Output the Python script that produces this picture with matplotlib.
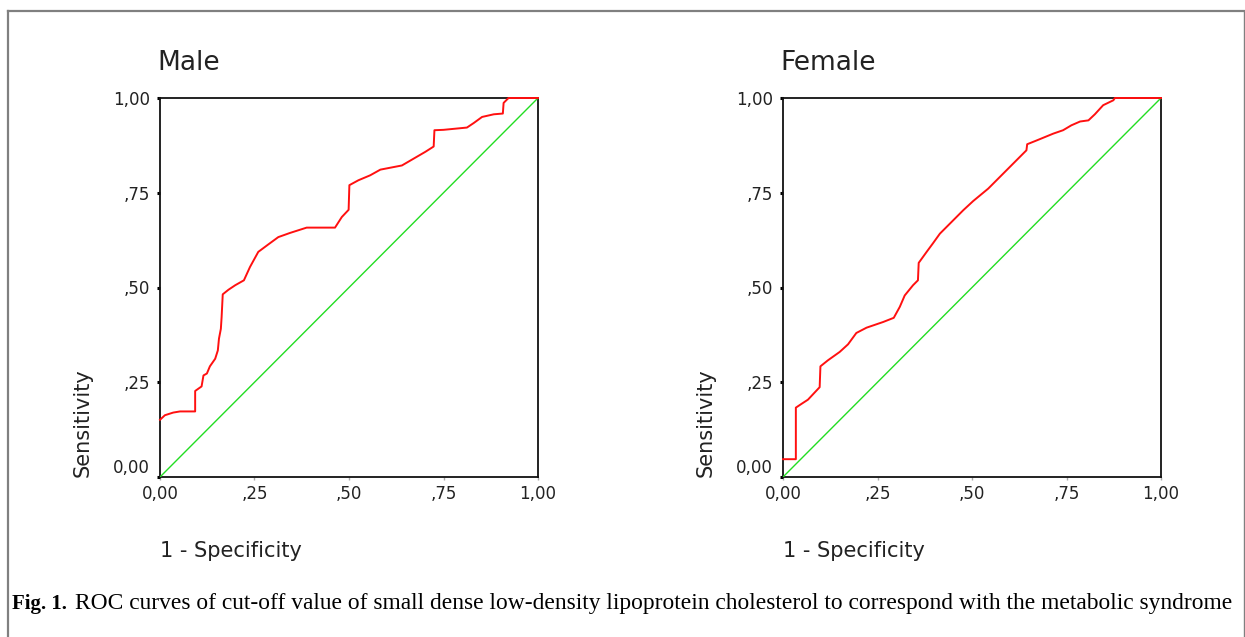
import matplotlib.pyplot as plt
from matplotlib.lines import Line2D

# ROC points (1 - specificity, sensitivity)
male_fpr = [0.0, 0.013, 0.035, 0.053, 0.093, 0.093, 0.110, 0.115, 0.124, 0.132,
            0.146, 0.153, 0.156, 0.161, 0.163, 0.166, 0.181, 0.199, 0.222, 0.238,
            0.260, 0.287, 0.313, 0.344, 0.388, 0.463, 0.481, 0.499, 0.501, 0.525,
            0.556, 0.583, 0.640, 0.671, 0.702, 0.724, 0.726, 0.750, 0.812, 0.830,
            0.852, 0.883, 0.907, 0.909, 0.922, 1.0]
male_tpr = [0.151, 0.163, 0.170, 0.173, 0.173, 0.227, 0.239, 0.268, 0.273, 0.292,
            0.312, 0.334, 0.365, 0.391, 0.422, 0.482, 0.494, 0.506, 0.519, 0.554,
            0.594, 0.614, 0.633, 0.644, 0.658, 0.658, 0.686, 0.705, 0.770, 0.783,
            0.796, 0.811, 0.822, 0.840, 0.858, 0.872, 0.915, 0.916, 0.922, 0.934,
            0.950, 0.957, 0.959, 0.987, 1.0, 1.0]

female_fpr = [0.0, 0.034, 0.034, 0.049, 0.066, 0.097, 0.099, 0.119, 0.150, 0.172,
              0.194, 0.221, 0.265, 0.293, 0.309, 0.322, 0.344, 0.357, 0.359, 0.380,
              0.397, 0.415, 0.446, 0.477, 0.503, 0.543, 0.569, 0.596, 0.622, 0.644,
              0.646, 0.671, 0.715, 0.741, 0.763, 0.786, 0.808, 0.825, 0.847, 0.874,
              0.878, 1.0]
female_tpr = [0.047, 0.047, 0.183, 0.193, 0.204, 0.237, 0.292, 0.308, 0.330, 0.350,
              0.380, 0.394, 0.409, 0.420, 0.449, 0.479, 0.506, 0.519, 0.565, 0.594,
              0.617, 0.642, 0.673, 0.704, 0.728, 0.761, 0.787, 0.814, 0.840, 0.862,
              0.878, 0.888, 0.906, 0.915, 0.928, 0.938, 0.941, 0.957, 0.981, 0.994,
              1.0, 1.0]

ticks = [0.0, 0.25, 0.5, 0.75, 1.0]
tick_labels = ['0,00', ',25', ',50', ',75', '1,00']

W, H = 1245, 637
fig = plt.figure(figsize=(W / 100, H / 100), dpi=100)


def px(x, y):
    # pixel position (from top left) -> figure fraction
    return x / W, 1 - y / H


def roc_panel(left, title, fpr, tpr):
    x0, y0 = px(left, 477)
    ax = fig.add_axes([x0, y0, 378 / W, 379 / H])
    ax.plot([0, 1], [0, 1], color='#22dd22', lw=1.0, zorder=3)
    ax.plot(fpr, tpr, color='#ff1010', lw=1.4, zorder=4, clip_on=False)
    ax.set_xlim(0, 1)
    ax.set_ylim(0, 1)
    ax.set_xticks(ticks)
    ax.set_xticklabels(tick_labels)
    ax.set_yticks(ticks)
    ax.set_yticklabels(tick_labels)
    for s in ax.spines.values():
        s.set_color('#111111')
        s.set_linewidth(1.3)
    ax.tick_params(axis='y', length=2.2, width=2.2, color='black', pad=5,
                   labelsize=12, labelcolor='#222222')
    ax.tick_params(axis='x', length=2, width=1, color='#aaaaaa', pad=4,
                   labelsize=12, labelcolor='#222222')
    ax.get_yticklabels()[0].set_verticalalignment('bottom')

    tx, ty = px(left - 3, 63)
    fig.text(tx, ty, title, fontsize=19, color='#222222', ha='left', va='center')
    lx, ly = px(left - 77, 477)
    fig.text(lx, ly, 'Sensitivity', fontsize=15, color='#222222', rotation=90,
             ha='center', va='bottom')
    sx, sy = px(left, 551)
    fig.text(sx, sy, '1 - Specificity', fontsize=15, color='#222222',
             ha='left', va='center')
    return ax


roc_panel(160, 'Male', male_fpr, male_tpr)
roc_panel(783, 'Female', female_fpr, female_tpr)

# page frame lines
frame = '#808080'
fig.add_artist(Line2D([7.5 / W, 7.5 / W], [0, 1 - 10.5 / H], color=frame, lw=1.6))
fig.add_artist(Line2D([7.5 / W, 1243.5 / W], [1 - 10.5 / H, 1 - 10.5 / H], color=frame, lw=1.6))
fig.add_artist(Line2D([1243.5 / W, 1243.5 / W], [0, 1 - 10.5 / H], color=frame, lw=1.0))

# caption, stretched to the frame width like the justified original
cx, cy = px(12, 604)
bold = fig.text(cx, cy, 'Fig. 1.', fontsize=15, fontweight='bold',
                family='Liberation Serif', ha='left', va='center')
fig.canvas.draw()
bb = bold.get_window_extent()
start = bb.x1 + 8
rest = fig.text(start / W, cy,
                'ROC curves of cut-off value of small dense low-density lipoprotein '
                'cholesterol to correspond with the metabolic syndrome',
                fontsize=14, family='Liberation Serif', ha='left', va='center')
fig.canvas.draw()
rb = rest.get_window_extent()
rest.set_fontsize(14 * (1237 - start) / rb.width)

fig.savefig('out.png', dpi=100)
